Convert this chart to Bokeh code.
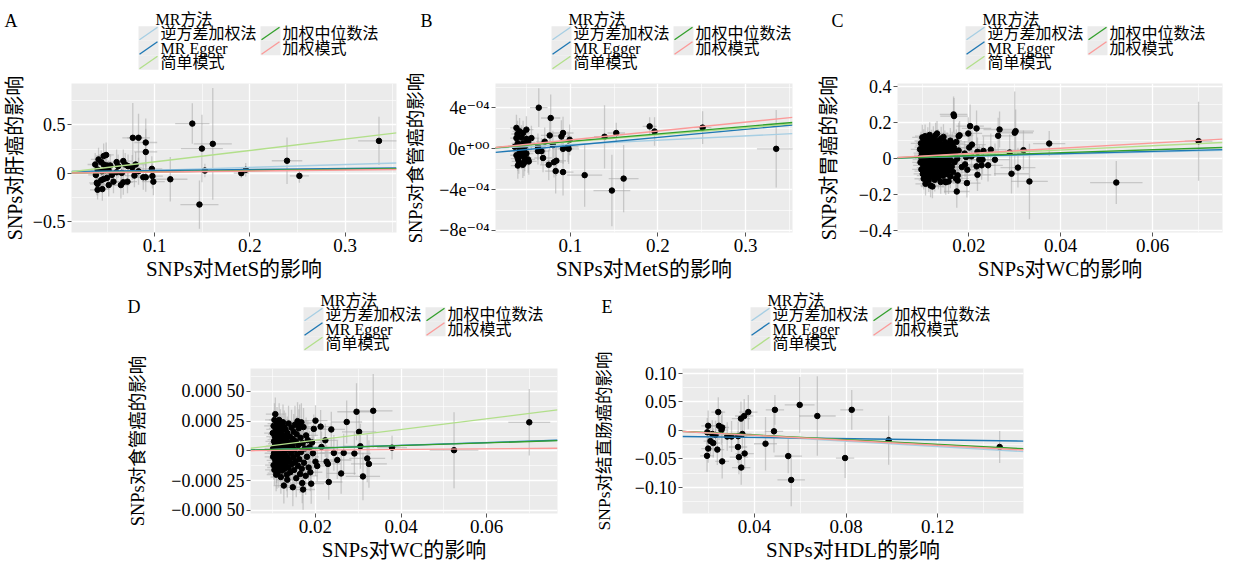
from bokeh.plotting import figure
from bokeh.models import FixedTicker, Spacer, Range1d, ColumnDataSource, Plot
from bokeh.core.properties import value
from bokeh.layouts import column, row
from bokeh.embed import file_html
from bokeh.resources import INLINE

FONT = "Liberation Serif, DejaVu Serif, Noto Sans CJK SC"
HAS_FRAME_ALIGN = "frame_align" in Plot.properties()

# ---------------- data ----------------
legend_title = "MR方法"
methods = ["逆方差加权法", "MR Egger", "简单模式", "加权中位数法", "加权模式"]
method_colors = ["#A6CEE3", "#1F78B4", "#B2DF8A", "#33A02C", "#FB9A99"]

# (beta_exposure, beta_outcome, se_exposure, se_outcome)
a_points = [
    (0.0375, 0.090, 0.008, 0.12), (0.0382, -0.018, 0.008, 0.12), (0.0392, -0.100, 0.008, 0.13),
    (0.0400, -0.112, 0.008, 0.12), (0.0400, 0.038, 0.007, 0.11), (0.0400, -0.172, 0.008, 0.10),
    (0.0410, 0.143, 0.008, 0.12), (0.0438, 0.115, 0.008, 0.12), (0.0438, -0.073, 0.007, 0.12),
    (0.0445, 0.020, 0.007, 0.11), (0.0450, -0.165, 0.008, 0.12), (0.0464, 0.178, 0.008, 0.13),
    (0.0464, 0.090, 0.008, 0.12), (0.0464, -0.060, 0.008, 0.11), (0.0480, 0.031, 0.007, 0.12),
    (0.0490, 0.189, 0.008, 0.13), (0.0498, 0.080, 0.008, 0.12), (0.0498, -0.049, 0.008, 0.12),
    (0.0515, 0.031, 0.008, 0.10), (0.0517, -0.123, 0.008, 0.12), (0.0533, 0.080, 0.008, 0.12),
    (0.0550, -0.018, 0.009, 0.11), (0.0567, -0.088, 0.009, 0.12), (0.0600, 0.115, 0.009, 0.13),
    (0.0600, 0.010, 0.009, 0.11), (0.0616, 0.073, 0.009, 0.12), (0.0645, -0.123, 0.009, 0.14),
    (0.0654, 0.003, 0.009, 0.12), (0.0670, 0.126, 0.009, 0.12), (0.0670, -0.094, 0.010, 0.13),
    (0.0690, 0.090, 0.009, 0.12), (0.0714, -0.088, 0.010, 0.12), (0.0720, 0.073, 0.010, 0.12),
    (0.0764, 0.059, 0.010, 0.13), (0.0770, 0.367, 0.011, 0.36), (0.0787, -0.025, 0.010, 0.12),
    (0.0800, 0.090, 0.011, 0.13), (0.0830, 0.367, 0.012, 0.25), (0.0830, 0.020, 0.010, 0.14),
    (0.0880, -0.042, 0.011, 0.13), (0.0906, 0.318, 0.012, 0.25), (0.0906, 0.220, 0.012, 0.24),
    (0.0906, -0.042, 0.011, 0.15), (0.0970, 0.045, 0.011, 0.13), (0.0976, -0.030, 0.011, 0.13),
    (0.0986, -0.088, 0.012, 0.14), (0.1164, -0.063, 0.018, 0.23), (0.1395, 0.514, 0.018, 0.21),
    (0.1470, -0.325, 0.020, 0.25), (0.1496, 0.255, 0.022, 0.35), (0.1527, 0.027, 0.010, 0.07),
    (0.1610, 0.304, 0.020, 0.58), (0.1910, 0.000, 0.008, 0.05), (0.1956, 0.035, 0.005, 0.07),
    (0.2390, 0.129, 0.016, 0.24), (0.2520, -0.028, 0.010, 0.07), (0.3356, 0.335, 0.022, 0.25),
]
a_slopes = [0.30, 0.10, 1.18, 0.135, 0.11]
a_intercepts = [0.0, 0.018, 0.0, 0.0, 0.0]

b_points = [
    (0.0365, 0.20e-4, 0.007, 1.2e-4), (0.0384, 2.05e-4, 0.007, 1.3e-4), (0.0384, 1.05e-4, 0.007, 1.2e-4),
    (0.0384, -0.63e-4, 0.007, 1.2e-4), (0.0396, 1.45e-4, 0.007, 1.3e-4), (0.0400, 0.54e-4, 0.007, 1.2e-4),
    (0.0400, -0.97e-4, 0.008, 1.2e-4), (0.0400, -1.64e-4, 0.008, 1.3e-4), (0.0411, -1.24e-4, 0.008, 1.2e-4),
    (0.0420, 1.71e-4, 0.008, 1.3e-4), (0.0422, 0.0, 0.008, 1.2e-4), (0.0422, -0.30e-4, 0.008, 1.2e-4),
    (0.0441, 1.10e-4, 0.008, 1.2e-4), (0.0441, -0.70e-4, 0.008, 1.3e-4), (0.0457, -1.57e-4, 0.008, 1.3e-4),
    (0.0460, 1.55e-4, 0.008, 1.2e-4), (0.0460, 0.54e-4, 0.008, 1.2e-4), (0.0470, -0.23e-4, 0.008, 1.2e-4),
    (0.0471, -1.37e-4, 0.008, 1.3e-4), (0.0479, 0.20e-4, 0.008, 1.2e-4), (0.0479, -0.90e-4, 0.008, 1.3e-4),
    (0.0498, 1.88e-4, 0.008, 1.3e-4), (0.0498, 0.98e-4, 0.008, 1.2e-4), (0.0498, -0.46e-4, 0.008, 1.2e-4),
    (0.0517, 0.64e-4, 0.008, 1.2e-4), (0.0517, -1.04e-4, 0.008, 1.3e-4), (0.0525, -1.24e-4, 0.009, 1.3e-4),
    (0.0555, 1.05e-4, 0.009, 1.2e-4), (0.0630, 0.20e-4, 0.009, 1.3e-4), (0.0630, -0.23e-4, 0.009, 1.3e-4),
    (0.0639, 4.03e-4, 0.010, 1.9e-4), (0.0670, -0.23e-4, 0.009, 1.3e-4), (0.0688, -0.90e-4, 0.010, 1.4e-4),
    (0.0707, 0.70e-4, 0.010, 1.4e-4), (0.0753, -1.57e-4, 0.010, 1.5e-4), (0.0764, 1.31e-4, 0.010, 1.5e-4),
    (0.0775, 3.02e-4, 0.011, 2.3e-4), (0.0800, 0.37e-4, 0.011, 1.4e-4), (0.0813, -1.31e-4, 0.011, 1.5e-4),
    (0.0832, -2.18e-4, 0.012, 2.2e-4), (0.0840, -1.17e-4, 0.011, 1.5e-4), (0.0897, 1.21e-4, 0.012, 1.6e-4),
    (0.0916, 1.55e-4, 0.012, 1.6e-4), (0.0916, 0.0, 0.012, 1.5e-4), (0.0916, -2.28e-4, 0.012, 2.3e-4),
    (0.0973, 0.20e-4, 0.012, 1.5e-4), (0.0980, 0.0, 0.012, 1.5e-4), (0.0992, 0.88e-4, 0.012, 1.5e-4),
    (0.1163, -2.58e-4, 0.020, 3.1e-4), (0.1390, 1.18e-4, 0.012, 3.1e-4), (0.1474, -4.09e-4, 0.021, 3.5e-4),
    (0.1524, 1.55e-4, 0.010, 1.0e-4), (0.1608, -2.92e-4, 0.017, 3.3e-4), (0.1905, 2.20e-4, 0.008, 0.9e-4),
    (0.1961, 1.70e-4, 0.005, 1.4e-4), (0.2510, 2.08e-4, 0.010, 1.6e-4), (0.3350, 0.0, 0.022, 3.8e-4),
]
b_slopes = [4.2e-4, 7.9e-4, 6.9e-4, 7.3e-4, 8.7e-4]
b_intercepts = [0.0, -4.6e-5, 0.0, 0.0, 0.0]

c_points = [
    (0.0094, 0.052, 0.0020, 0.055), (0.0095, -0.021, 0.0018, 0.050), (0.0096, 0.010, 0.0020, 0.060),
    (0.0096, 0.085, 0.0022, 0.065), (0.0097, -0.060, 0.0020, 0.055), (0.0098, 0.031, 0.0018, 0.050),
    (0.0098, -0.005, 0.0020, 0.060), (0.0099, 0.118, 0.0022, 0.070), (0.0100, -0.085, 0.0020, 0.060),
    (0.0100, 0.064, 0.0018, 0.055), (0.0101, 0.020, 0.0020, 0.050), (0.0101, -0.038, 0.0022, 0.060),
    (0.0102, 0.098, 0.0020, 0.065), (0.0102, -0.112, 0.0020, 0.060), (0.0103, 0.042, 0.0018, 0.055),
    (0.0103, 0.002, 0.0020, 0.050), (0.0104, -0.070, 0.0022, 0.060), (0.0104, 0.075, 0.0020, 0.055),
    (0.0105, 0.125, 0.0022, 0.065), (0.0105, -0.025, 0.0020, 0.055), (0.0106, 0.014, 0.0018, 0.050),
    (0.0106, -0.140, 0.0022, 0.065), (0.0107, 0.055, 0.0020, 0.060), (0.0107, -0.050, 0.0020, 0.055),
    (0.0108, 0.090, 0.0022, 0.060), (0.0108, -0.010, 0.0020, 0.050), (0.0109, 0.030, 0.0020, 0.055),
    (0.0109, -0.095, 0.0022, 0.065), (0.0110, 0.068, 0.0020, 0.060), (0.0110, -0.030, 0.0018, 0.055),
    (0.0111, 0.008, 0.0020, 0.050), (0.0111, 0.110, 0.0022, 0.065), (0.0112, -0.062, 0.0020, 0.060),
    (0.0112, 0.045, 0.0020, 0.055), (0.0113, -0.120, 0.0022, 0.065), (0.0113, 0.022, 0.0020, 0.050),
    (0.0114, -0.002, 0.0020, 0.055), (0.0114, 0.080, 0.0022, 0.060), (0.0115, -0.045, 0.0020, 0.055),
    (0.0115, 0.132, 0.0022, 0.070), (0.0116, 0.036, 0.0020, 0.055), (0.0116, -0.080, 0.0022, 0.060),
    (0.0117, -0.150, 0.0022, 0.065), (0.0117, 0.060, 0.0020, 0.055), (0.0118, 0.012, 0.0020, 0.050),
    (0.0118, -0.020, 0.0020, 0.055), (0.0119, 0.095, 0.0022, 0.065), (0.0119, -0.100, 0.0022, 0.060),
    (0.0120, 0.048, 0.0020, 0.055), (0.0120, -0.058, 0.0020, 0.060), (0.0121, 0.026, 0.0020, 0.050),
    (0.0121, -0.155, 0.0025, 0.065), (0.0122, 0.070, 0.0022, 0.060), (0.0122, -0.008, 0.0020, 0.055),
    (0.0123, 0.115, 0.0022, 0.065), (0.0123, -0.035, 0.0020, 0.055), (0.0124, 0.004, 0.0020, 0.050),
    (0.0124, -0.075, 0.0022, 0.060), (0.0125, 0.088, 0.0022, 0.060), (0.0125, 0.040, 0.0020, 0.055),
    (0.0126, -0.118, 0.0022, 0.065), (0.0126, 0.018, 0.0020, 0.050), (0.0127, -0.052, 0.0022, 0.055),
    (0.0127, 0.058, 0.0020, 0.060), (0.0128, 0.130, 0.0025, 0.070), (0.0128, -0.015, 0.0020, 0.055),
    (0.0129, 0.032, 0.0020, 0.050), (0.0129, -0.090, 0.0022, 0.060), (0.0130, 0.076, 0.0022, 0.060),
    (0.0130, -0.042, 0.0020, 0.055), (0.0131, 0.140, 0.0025, 0.070), (0.0131, 0.006, 0.0020, 0.050),
    (0.0132, -0.066, 0.0022, 0.060), (0.0132, 0.050, 0.0020, 0.055), (0.0133, -0.025, 0.0020, 0.055),
    (0.0133, 0.100, 0.0022, 0.065), (0.0134, 0.024, 0.0020, 0.050), (0.0134, -0.105, 0.0022, 0.065),
    (0.0135, 0.062, 0.0022, 0.060), (0.0136, -0.004, 0.0020, 0.055), (0.0136, -0.078, 0.0022, 0.060),
    (0.0137, 0.085, 0.0022, 0.060), (0.0137, 0.038, 0.0020, 0.055), (0.0138, -0.048, 0.0022, 0.055),
    (0.0139, 0.015, 0.0020, 0.050), (0.0139, -0.130, 0.0025, 0.065), (0.0140, 0.112, 0.0025, 0.065),
    (0.0140, -0.020, 0.0020, 0.055), (0.0141, 0.054, 0.0022, 0.060), (0.0142, -0.060, 0.0022, 0.060),
    (0.0142, 0.002, 0.0020, 0.050), (0.0143, 0.072, 0.0022, 0.060), (0.0144, -0.095, 0.0025, 0.065),
    (0.0144, 0.030, 0.0022, 0.055), (0.0145, 0.121, 0.0025, 0.070), (0.0145, -0.034, 0.0022, 0.055),
    (0.0146, 0.045, 0.0022, 0.060), (0.0147, -0.070, 0.0025, 0.060), (0.0147, 0.010, 0.0022, 0.050),
    (0.0148, -0.127, 0.0025, 0.065), (0.0148, 0.092, 0.0025, 0.065), (0.0149, -0.012, 0.0022, 0.055),
    (0.0150, 0.060, 0.0025, 0.060), (0.0150, -0.131, 0.0025, 0.070), (0.0151, 0.028, 0.0022, 0.055),
    (0.0152, -0.050, 0.0025, 0.060), (0.0153, 0.080, 0.0025, 0.065), (0.0153, -0.085, 0.0025, 0.065),
    (0.0154, 0.005, 0.0022, 0.055), (0.0155, 0.040, 0.0025, 0.060), (0.0156, -0.127, 0.0025, 0.070),
    (0.0156, -0.030, 0.0025, 0.055), (0.0157, 0.068, 0.0025, 0.065), (0.0158, -0.065, 0.0025, 0.060),
    (0.0159, 0.018, 0.0025, 0.055), (0.0160, 0.100, 0.0025, 0.070), (0.0160, -0.100, 0.0025, 0.065),
    (0.0161, -0.010, 0.0025, 0.055), (0.0162, 0.050, 0.0025, 0.060), (0.0163, -0.045, 0.0025, 0.060),
    (0.0164, 0.085, 0.0025, 0.065), (0.0165, 0.025, 0.0025, 0.055), (0.0166, -0.075, 0.0028, 0.065),
    (0.0168, 0.060, 0.0028, 0.065), (0.0169, -0.020, 0.0028, 0.060), (0.0170, 0.035, 0.0028, 0.060),
    (0.0172, -0.110, 0.0028, 0.070), (0.0174, -0.183, 0.0028, 0.090), (0.0175, 0.000, 0.0028, 0.060),
    (0.0176, -0.122, 0.0028, 0.070), (0.0176, -0.093, 0.0028, 0.070), (0.0178, 0.125, 0.0030, 0.075),
    (0.0178, 0.045, 0.0028, 0.065),
    (0.0167, 0.246, 0.0030, 0.100), (0.0168, 0.237, 0.0030, 0.100), (0.0173, 0.093, 0.0025, 0.070),
    (0.0180, 0.130, 0.0030, 0.080), (0.0185, -0.047, 0.0025, 0.070), (0.0191, 0.028, 0.0025, 0.070),
    (0.0192, -0.032, 0.0025, 0.070), (0.0194, 0.009, 0.0025, 0.070), (0.0196, -0.136, 0.0030, 0.080),
    (0.0197, -0.062, 0.0028, 0.080), (0.0199, 0.140, 0.0030, 0.090), (0.0201, 0.062, 0.0028, 0.080),
    (0.0203, 0.181, 0.0030, 0.120), (0.0206, 0.013, 0.0025, 0.070), (0.0207, 0.078, 0.0030, 0.080),
    (0.0217, 0.168, 0.0032, 0.100), (0.0217, -0.043, 0.0030, 0.080), (0.0219, 0.038, 0.0030, 0.080),
    (0.0219, -0.090, 0.0030, 0.090), (0.0223, -0.006, 0.0030, 0.080), (0.0228, -0.037, 0.0030, 0.080),
    (0.0230, -0.006, 0.0030, 0.080), (0.0232, 0.043, 0.0030, 0.080), (0.0242, -0.037, 0.0032, 0.090),
    (0.0248, 0.050, 0.0032, 0.090), (0.0257, -0.006, 0.0032, 0.090), (0.0264, 0.127, 0.0035, 0.100),
    (0.0267, 0.162, 0.0035, 0.100), (0.0289, 0.034, 0.0035, 0.100), (0.0293, -0.084, 0.0038, 0.110),
    (0.0300, 0.144, 0.0040, 0.230), (0.0302, 0.153, 0.0040, 0.120), (0.0307, -0.050, 0.0038, 0.110),
    (0.0319, 0.047, 0.0040, 0.110), (0.0332, -0.127, 0.0040, 0.210), (0.0375, 0.084, 0.0035, 0.070),
    (0.0521, -0.133, 0.0057, 0.120), (0.0700, 0.097, 0.0030, 0.220),
]
c_slopes = [0.62, 0.64, 1.19, 0.82, 1.44]
c_intercepts = [0.0, 0.002, 0.0, 0.0, 0.0]

d_points = [
    (0.0100, 0.000150, 0.0020, 0.00012), (0.0101, -0.000050, 0.0020, 0.00011), (0.0101, 0.000020, 0.0020, 0.00012),
    (0.0102, 0.000210, 0.0022, 0.00013), (0.0102, -0.000120, 0.0020, 0.00012), (0.0103, 0.000080, 0.0020, 0.00011),
    (0.0103, -0.000020, 0.0022, 0.00012), (0.0104, 0.000260, 0.0022, 0.00014), (0.0104, -0.000160, 0.0022, 0.00013),
    (0.0105, 0.000120, 0.0020, 0.00012), (0.0105, 0.000040, 0.0020, 0.00011), (0.0106, 0.000309, 0.0022, 0.00014),
    (0.0106, -0.000080, 0.0020, 0.00012), (0.0107, 0.000180, 0.0022, 0.00013), (0.0107, -0.000005, 0.0020, 0.00011),
    (0.0108, -0.000200, 0.0022, 0.00014), (0.0108, 0.000095, 0.0020, 0.00012), (0.0109, 0.000060, 0.0020, 0.00012),
    (0.0109, -0.000140, 0.0022, 0.00013), (0.0110, 0.000230, 0.0022, 0.00014), (0.0110, -0.000188, 0.0022, 0.00013),
    (0.0110, 0.000010, 0.0020, 0.00011), (0.0111, -0.000060, 0.0020, 0.00012), (0.0111, 0.000140, 0.0022, 0.00013),
    (0.0112, 0.000070, 0.0020, 0.00012), (0.0112, -0.000100, 0.0022, 0.00012), (0.0113, 0.000190, 0.0022, 0.00013),
    (0.0113, -0.000030, 0.0020, 0.00011), (0.0114, 0.000110, 0.0022, 0.00012), (0.0114, -0.000170, 0.0022, 0.00014),
    (0.0115, 0.000030, 0.0020, 0.00012), (0.0115, 0.000260, 0.0024, 0.00014), (0.0116, -0.000070, 0.0022, 0.00012),
    (0.0116, 0.000160, 0.0022, 0.00013), (0.0117, -0.000130, 0.0022, 0.00013), (0.0117, 0.000050, 0.0020, 0.00011),
    (0.0118, 0.000210, 0.0024, 0.00014), (0.0118, -0.000015, 0.0022, 0.00012), (0.0119, -0.000220, 0.0024, 0.00014),
    (0.0119, 0.000100, 0.0022, 0.00012), (0.0120, 0.000075, 0.0022, 0.00012), (0.0120, -0.000090, 0.0022, 0.00013),
    (0.0121, 0.000170, 0.0024, 0.00013), (0.0122, -0.000166, 0.0024, 0.00014), (0.0122, 0.000020, 0.0022, 0.00012),
    (0.0123, 0.000130, 0.0022, 0.00013), (0.0123, -0.000050, 0.0022, 0.00012), (0.0124, 0.000240, 0.0024, 0.00015),
    (0.0124, -0.000120, 0.0024, 0.00013), (0.0125, 0.000060, 0.0022, 0.00012), (0.0126, -0.000292, 0.0024, 0.00015),
    (0.0126, 0.000000, 0.0022, 0.00012), (0.0127, 0.000200, 0.0024, 0.00014), (0.0127, -0.000075, 0.0022, 0.00013),
    (0.0128, 0.000115, 0.0024, 0.00013), (0.0128, -0.000150, 0.0024, 0.00014), (0.0129, 0.000040, 0.0022, 0.00012),
    (0.0130, -0.000035, 0.0024, 0.00013), (0.0130, 0.000180, 0.0024, 0.00014), (0.0131, -0.000105, 0.0024, 0.00013),
    (0.0132, 0.000090, 0.0024, 0.00013), (0.0133, -0.000200, 0.0024, 0.00014), (0.0133, 0.000010, 0.0022, 0.00012),
    (0.0134, -0.000243, 0.0025, 0.00015), (0.0134, 0.000150, 0.0024, 0.00014), (0.0135, -0.000060, 0.0024, 0.00013),
    (0.0136, 0.000055, 0.0024, 0.00012), (0.0137, 0.000230, 0.0025, 0.00015), (0.0137, -0.000140, 0.0025, 0.00014),
    (0.0138, 0.000025, 0.0024, 0.00012), (0.0139, -0.000085, 0.0024, 0.00013), (0.0140, 0.000120, 0.0025, 0.00014),
    (0.0141, -0.000180, 0.0025, 0.00015), (0.0142, 0.000070, 0.0024, 0.00013), (0.0143, -0.000020, 0.0024, 0.00012),
    (0.0144, 0.000195, 0.0025, 0.00015), (0.0145, -0.000110, 0.0025, 0.00014), (0.0146, 0.000040, 0.0024, 0.00013),
    (0.0147, -0.000306, 0.0026, 0.00016), (0.0147, 0.000100, 0.0025, 0.00014), (0.0148, -0.000055, 0.0025, 0.00013),
    (0.0149, 0.000160, 0.0025, 0.00015), (0.0150, -0.000160, 0.0026, 0.00015), (0.0151, 0.000010, 0.0025, 0.00013),
    (0.0152, 0.000220, 0.0026, 0.00016), (0.0153, -0.000090, 0.0026, 0.00014), (0.0154, 0.000080, 0.0025, 0.00014),
    (0.0155, -0.000230, 0.0026, 0.00016), (0.0156, 0.000140, 0.0026, 0.00015), (0.0157, -0.000030, 0.0025, 0.00013),
    (0.0158, 0.000250, 0.0026, 0.00016), (0.0159, -0.000125, 0.0026, 0.00015), (0.0160, 0.000050, 0.0026, 0.00014),
    (0.0161, 0.000190, 0.0026, 0.00016), (0.0162, -0.000070, 0.0026, 0.00014), (0.0163, 0.000230, 0.0027, 0.00016),
    (0.0164, -0.000195, 0.0027, 0.00016), (0.0165, 0.000110, 0.0026, 0.00015), (0.0166, -0.000010, 0.0026, 0.00014),
    (0.0167, 0.000240, 0.0027, 0.00016), (0.0168, -0.000150, 0.0027, 0.00016), (0.0169, -0.000271, 0.0027, 0.00017),
    (0.0170, 0.000065, 0.0027, 0.00015), (0.0171, -0.000325, 0.0028, 0.00017), (0.0172, 0.000200, 0.0028, 0.00016),
    (0.0173, -0.000100, 0.0027, 0.00015), (0.0175, 0.000020, 0.0027, 0.00014), (0.0177, -0.000210, 0.0028, 0.00016),
    (0.0178, 0.000130, 0.0028, 0.00015), (0.0180, -0.000050, 0.0028, 0.00015), (0.0182, 0.000090, 0.0028, 0.00015),
    (0.0184, -0.000140, 0.0028, 0.00016), (0.0186, 0.000030, 0.0028, 0.00014), (0.0188, -0.000180, 0.0028, 0.00016),
    (0.0190, -0.000276, 0.0030, 0.00017), (0.0192, 0.000070, 0.0028, 0.00015), (0.0194, -0.000020, 0.0028, 0.00014),
    (0.0196, 0.000185, 0.0028, 0.00012), (0.0200, 0.000254, 0.0028, 0.00013), (0.0200, -0.000091, 0.0028, 0.00012),
    (0.0204, -0.000127, 0.0028, 0.00013), (0.0212, 0.000204, 0.0030, 0.00014), (0.0214, 0.000033, 0.0030, 0.00013),
    (0.0223, 0.000089, 0.0030, 0.00014), (0.0226, -0.000091, 0.0030, 0.00014), (0.0229, -0.000110, 0.0030, 0.00014),
    (0.0231, -0.000262, 0.0032, 0.00015), (0.0237, 0.000180, 0.0032, 0.00015), (0.0243, -0.000017, 0.0032, 0.00015),
    (0.0251, -0.000077, 0.0033, 0.00016), (0.0260, -0.000190, 0.0034, 0.00017), (0.0266, -0.000017, 0.0034, 0.00016),
    (0.0273, 0.000243, 0.0036, 0.00018), (0.0291, -0.000022, 0.0038, 0.00018), (0.0296, 0.000329, 0.0045, 0.00024),
    (0.0302, 0.000160, 0.0040, 0.00019), (0.0305, 0.000039, 0.0040, 0.00019), (0.0311, -0.000215, 0.0040, 0.00020),
    (0.0321, -0.000064, 0.0042, 0.00020), (0.0325, -0.000110, 0.0042, 0.00020), (0.0335, 0.000337, 0.0045, 0.00031),
    (0.0379, 0.000027, 0.0035, 0.00010), (0.0524, 0.0000058, 0.0057, 0.00032), (0.0700, 0.000240, 0.0049, 0.00028),
]
d_slopes = [0.00118, 0.00116, 0.0045, 0.00112, 0.00029]
d_intercepts = [0.0, 0.0, 0.0, 0.0, 0.0]

e_points = [
    (0.0194, -0.0447, 0.003, 0.028), (0.0195, -0.0034, 0.003, 0.025), (0.0199, 0.0080, 0.003, 0.027),
    (0.0199, -0.0320, 0.003, 0.025), (0.0209, -0.0189, 0.003, 0.025), (0.0217, -0.0064, 0.003, 0.024),
    (0.0221, -0.0223, 0.003, 0.026), (0.0231, -0.0081, 0.003, 0.025), (0.0239, -0.0338, 0.003, 0.027),
    (0.0243, 0.0321, 0.003, 0.026), (0.0246, 0.0080, 0.003, 0.025), (0.0257, 0.0005, 0.003, 0.026),
    (0.0260, 0.0050, 0.003, 0.028), (0.0260, -0.0545, 0.003, 0.030), (0.0282, -0.0108, 0.004, 0.025),
    (0.0301, -0.0108, 0.004, 0.027), (0.0329, -0.0292, 0.004, 0.028), (0.0330, -0.0103, 0.004, 0.026),
    (0.0333, -0.0469, 0.004, 0.030), (0.0342, 0.0206, 0.004, 0.030), (0.0343, -0.0653, 0.004, 0.030),
    (0.0348, -0.0064, 0.004, 0.026), (0.0356, 0.0252, 0.004, 0.030), (0.0358, -0.0407, 0.004, 0.028),
    (0.0374, 0.0321, 0.004, 0.030), (0.0449, -0.0235, 0.005, 0.047), (0.0486, -0.0017, 0.004, 0.037),
    (0.0490, 0.0360, 0.004, 0.026), (0.0548, -0.0452, 0.006, 0.030), (0.0561, -0.0871, 0.006, 0.046),
    (0.0598, 0.0447, 0.0065, 0.049), (0.0675, 0.0252, 0.008, 0.070), (0.0796, -0.0486, 0.004, 0.035),
    (0.0825, 0.0360, 0.005, 0.035), (0.0986, -0.0172, 0.001, 0.043), (0.1470, -0.0292, 0.001, 0.028),
]
e_slopes = [-0.237, -0.0545, -0.21, -0.205, -0.22]
e_intercepts = [0.0, -0.0103, 0.0, 0.0, 0.0]

# axis settings
a_xr, a_yr = (0.0126, 0.354), (-0.615, 0.93)
a_xticks, a_xminor, a_xlabels = [0.1, 0.2, 0.3], [0.05, 0.15, 0.25, 0.35], ["0.1", "0.2", "0.3"]
a_yticks, a_yminor, a_ylabels = [-0.5, 0.0, 0.5], [-0.25, 0.25, 0.75], ["−0.5", "0", "0.5"]

b_xr, b_yr = (0.0145, 0.3536), (-8.2e-4, 6.4e-4)
b_xticks, b_xminor, b_xlabels = [0.1, 0.2, 0.3], [0.05, 0.15, 0.25, 0.35], ["0.1", "0.2", "0.3"]
b_yticks, b_yminor = [-8e-4, -4e-4, 0.0, 4e-4], [-6e-4, -2e-4, 2e-4, 6e-4]
b_ylabels = ["−8e⁻⁰⁴", "−4e⁻⁰⁴", "0e⁺⁰⁰", "4e⁻⁰⁴"]

c_xr, c_yr = (0.0045, 0.0752), (-0.411, 0.418)
c_xticks, c_xminor, c_xlabels = [0.02, 0.04, 0.06], [0.01, 0.03, 0.05, 0.07], ["0.02", "0.04", "0.06"]
c_yticks, c_yminor = [-0.4, -0.2, 0.0, 0.2, 0.4], [-0.3, -0.1, 0.1, 0.3]
c_ylabels = ["−0.4", "−0.2", "0", "0.2", "0.4"]

d_xr, d_yr = (0.0048, 0.0766), (-0.000527, 0.000693)
d_xticks, d_xminor, d_xlabels = [0.02, 0.04, 0.06], [0.01, 0.03, 0.05, 0.07], ["0.02", "0.04", "0.06"]
d_yticks, d_yminor = [-0.0005, -0.00025, 0.0, 0.00025, 0.0005], [-0.000375, -0.000125, 0.000125, 0.000375, 0.000625]
d_ylabels = ["−0.000 50", "−0.000 25", "0", "0.000 25", "0.000 50"]

e_xr, e_yr = (0.0087, 0.1574), (-0.146, 0.1086)
e_xticks, e_xminor, e_xlabels = [0.04, 0.08, 0.12], [0.02, 0.06, 0.10, 0.14], ["0.04", "0.08", "0.12"]
e_yticks, e_yminor = [-0.10, -0.05, 0.0, 0.05, 0.10], [-0.125, -0.075, -0.025, 0.025, 0.075]
e_ylabels = ["−0.10", "−0.05", "0", "0.05", "0.10"]


def method_line_data(xr, slopes, icepts):
    return [([xr[0], xr[1]], [b + s * xr[0], b + s * xr[1]]) for s, b in zip(slopes, icepts)]


def header(letter, width, height, leg_left, let_pos):
    """Panel letter plus a ggplot-style legend (title, grey keys with diagonal lines, labels)."""
    h = figure(width=width, height=height, x_range=Range1d(0, width), y_range=Range1d(0, height),
               x_axis_type=None, y_axis_type=None, toolbar_location=None, output_backend="svg",
               min_border=0, outline_line_color=None, background_fill_color="white",
               border_fill_color="white")
    if HAS_FRAME_ALIGN:
        h.frame_align = False
    key_w, key_h, col_gap, row_h, bottom_row = 20, 14.5, 122, 14.5, 8
    kx = [leg_left, leg_left, leg_left, leg_left + col_gap, leg_left + col_gap]
    ky = [bottom_row + 2 * row_h, bottom_row + row_h, bottom_row, bottom_row + 2 * row_h, bottom_row + row_h]
    h.quad(left=kx, right=[x + key_w for x in kx], bottom=[y - key_h / 2 for y in ky],
           top=[y + key_h / 2 for y in ky], fill_color="#EBEBEB", line_color=None)
    h.segment(x0=[x + 1 for x in kx], y0=[y - key_h / 2 + 1 for y in ky],
              x1=[x + key_w - 1 for x in kx], y1=[y + key_h / 2 - 1 for y in ky],
              line_color=method_colors, line_width=1.4)
    h.text(x=[x + key_w + 2 for x in kx], y=ky, text=methods, text_font=value(FONT),
           text_font_size="16px", text_baseline="middle", text_align="left", text_color="black")
    h.text(x=[leg_left + 17], y=[bottom_row + 3 * row_h], text=[legend_title], text_font=value(FONT),
           text_font_size="16px", text_baseline="middle", text_align="left", text_color="black")
    h.text(x=[let_pos[0]], y=[let_pos[1]], text=[letter], text_font=value(FONT),
           text_font_size="18px", text_baseline="middle", text_align="left", text_color="black")
    return h


def panel(pts, lines, xr, yr, xt, xm, xl, yt, ym, yl, xlab, ylab, geom, ylab_standoff, ylab_size):
    left, fw, right, top, fh, bottom = geom
    p = figure(frame_width=fw, frame_height=fh,
               min_border_left=left, min_border_right=right,
               min_border_top=top, min_border_bottom=bottom,
               x_range=Range1d(*xr), y_range=Range1d(*yr),
               output_backend="svg", toolbar_location=None,
               background_fill_color="#EBEBEB", border_fill_color="white",
               outline_line_color=None)
    if HAS_FRAME_ALIGN:
        p.frame_align = False
    xs = [q[0] for q in pts]
    ys = [q[1] for q in pts]
    sx = [q[2] for q in pts]
    sy = [q[3] for q in pts]
    src = ColumnDataSource(dict(
        x=xs, y=ys,
        xl=[a - b for a, b in zip(xs, sx)], xh=[a + b for a, b in zip(xs, sx)],
        yl=[a - b for a, b in zip(ys, sy)], yh=[a + b for a, b in zip(ys, sy)]))
    p.segment(x0="xl", x1="xh", y0="y", y1="y", source=src, line_color="#A9A9A9", line_alpha=0.55, line_width=1.3)
    p.segment(x0="x", x1="x", y0="yl", y1="yh", source=src, line_color="#A9A9A9", line_alpha=0.55, line_width=1.3)
    p.scatter(x="x", y="y", source=src, size=5.5, fill_color="black", line_color="black")

    for col, (lx, ly) in zip(method_colors, lines):
        p.line(x=lx, y=ly, line_color=col, line_width=1.4)

    p.xaxis.ticker = FixedTicker(ticks=xt, minor_ticks=xm)
    p.yaxis.ticker = FixedTicker(ticks=yt, minor_ticks=ym)
    p.xaxis.major_label_overrides = {t: s for t, s in zip(xt, xl)}
    p.yaxis.major_label_overrides = {t: s for t, s in zip(yt, yl)}
    for g in (p.xgrid, p.ygrid):
        g.grid_line_color = "white"
        g.grid_line_width = 1.3
        g.minor_grid_line_color = "white"
        g.minor_grid_line_width = 0.6
    for ax in (p.xaxis, p.yaxis):
        ax.axis_line_color = None
        ax.major_tick_line_color = "#555555"
        ax.major_tick_out = 4
        ax.major_tick_in = 0
        ax.minor_tick_line_color = None
        ax.major_label_text_font = FONT
        ax.major_label_text_color = "black"
        ax.major_label_standoff = 2
        ax.axis_label_text_font = FONT
        ax.axis_label_text_font_style = "normal"
        ax.axis_label_text_color = "black"
    p.xaxis.major_label_text_font_size = "19px"
    p.yaxis.major_label_text_font_size = "18px"
    p.xaxis.axis_label_text_font_size = "21px"
    p.yaxis.axis_label_text_font_size = ylab_size
    p.xaxis.axis_label_standoff = 2
    p.yaxis.axis_label_standoff = ylab_standoff
    p.xaxis.axis_label = xlab
    p.yaxis.axis_label = ylab
    return p


# geometry: (left, frame_w, right, top, frame_h, bottom)
ga = (68, 325, 7, 13, 149, 50)
gb = (92, 297, 18, 13, 149, 50)
gc = (87, 325, 2, 13, 149, 50)
gd = (127, 307, 13, 17, 145, 47)
ge = (112, 341, 12, 17, 145, 47)

la = method_line_data(a_xr, a_slopes, a_intercepts)
lb = method_line_data(b_xr, b_slopes, b_intercepts)
lc = method_line_data(c_xr, c_slopes, c_intercepts)
ld = method_line_data(d_xr, d_slopes, d_intercepts)
le = method_line_data(e_xr, e_slopes, e_intercepts)

pa = panel(a_points, la, a_xr, a_yr, a_xticks, a_xminor, a_xlabels,
           a_yticks, a_yminor, a_ylabels, "SNPs对MetS的影响", "SNPs对肝癌的影响", ga, 4, "20px")
pb = panel(b_points, lb, b_xr, b_yr, b_xticks, b_xminor, b_xlabels,
           b_yticks, b_yminor, b_ylabels, "SNPs对MetS的影响", "SNPs对食管癌的影响", gb, 10, "18.5px")
pc = panel(c_points, lc, c_xr, c_yr, c_xticks, c_xminor, c_xlabels,
           c_yticks, c_yminor, c_ylabels, "SNPs对WC的影响", "SNPs对胃癌的影响", gc, 16, "20px")
pd_ = panel(d_points, ld, d_xr, d_yr, d_xticks, d_xminor, d_xlabels,
            d_yticks, d_yminor, d_ylabels, "SNPs对WC的影响", "SNPs对食管癌的影响", gd, 20, "18.5px")
pe = panel(e_points, le, e_xr, e_yr, e_xticks, e_xminor, e_xlabels,
           e_yticks, e_yminor, e_ylabels, "SNPs对HDL的影响", "SNPs对结直肠癌的影响", ge, 18, "17.5px")

ha = header("A", sum(ga[:3]), 70, 138, (4, 50))
hb = header("B", sum(gb[:3]), 70, 148, (17, 50))
hc = header("C", sum(gc[:3]), 70, 155, (21, 50))
hd = header("D", sum(gd[:3]), 68, 180, (4, 45))
he = header("E", sum(ge[:3]), 68, 180, (31, 45))

layout = column(
    row(column(ha, pa), column(hb, pb), column(hc, pc)),
    row(Spacer(width=123, height=10), column(hd, pd_), column(he, pe)),
)
open("out.html", "w").write(file_html(layout, INLINE))
